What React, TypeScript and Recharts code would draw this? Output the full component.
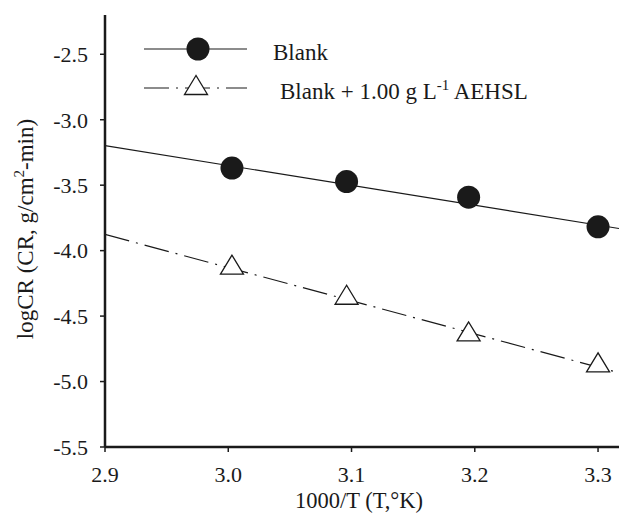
import React from 'react';
import { ComposedChart, Line, Scatter, XAxis, YAxis, Customized } from 'recharts';

// 1000/T values (K^-1 x 1000)
const xValues = [3.003, 3.096, 3.195, 3.3];
// logCR for Blank
const blankValues = [-3.369, -3.472, -3.592, -3.818];
// logCR for Blank + 1.00 g/L AEHSL
const inhibitorValues = [-4.107, -4.337, -4.617, -4.853];
// fitted regression lines (end points)
const fitX = [2.9, 3.317];
const blankFit = [-3.198, -3.831];
const inhibitorFit = [-3.876, -4.933];

const xTicks = [2.9, 3.0, 3.1, 3.2, 3.3];
const yTicks = [-5.5, -5.0, -4.5, -4.0, -3.5, -3.0, -2.5];

const blankPoints = xValues.map((x, i) => ({ x, y: blankValues[i] }));
const inhibitorPoints = xValues.map((x, i) => ({ x, y: inhibitorValues[i] }));
const blankFitData = fitX.map((x, i) => ({ x, y: blankFit[i] }));
const inhibitorFitData = fitX.map((x, i) => ({ x, y: inhibitorFit[i] }));

const FONT = '"Liberation Serif", "Times New Roman", serif';
const INK = '#1a1a1a';
const DASHDOT = '25 7 2 7';

const Circle = (props: any) => (
  <circle cx={props.cx} cy={props.cy} r={11.5} fill={INK} />
);

const triPoints = (cx: number, cy: number, w = 23, h = 19) =>
  `${cx},${cy - h / 2} ${cx - w / 2},${cy + h / 2} ${cx + w / 2},${cy + h / 2}`;

const Triangle = (props: any) => (
  <polygon points={triPoints(props.cx, props.cy)} fill="#fff" stroke={INK} strokeWidth={1.3} />
);

const textStyle = { fontFamily: FONT, fontWeight: 400 } as const;

const Decorations = () => (
  <g fill={INK}>
    {/* legend */}
    <line x1={144} y1={49} x2={247} y2={49} stroke={INK} strokeWidth={1.2} />
    <circle cx={198} cy={49} r={11.5} fill={INK} />
    <text x={273} y={60} fontSize={23} style={textStyle}>Blank</text>
    <line x1={144} y1={88} x2={247} y2={88} stroke={INK} strokeWidth={1.2} strokeDasharray={DASHDOT} />
    <polygon points={triPoints(196, 85)} fill="#fff" stroke={INK} strokeWidth={1.3} />
    <text x={280} y={99} fontSize={23} style={textStyle}>
      Blank + 1.00 g L
      <tspan fontSize={15} dy={-9}>-1</tspan>
      <tspan dy={9}> AEHSL</tspan>
    </text>
    {/* axis titles */}
    <text x={359} y={508} fontSize={22.5} textAnchor="middle" style={textStyle}>1000/T (T,°K)</text>
    <text transform="translate(33,229) rotate(-90)" x={0} y={0} fontSize={23} textAnchor="middle" style={textStyle}>
      logCR (CR, g/cm
      <tspan fontSize={15} dy={-9}>2</tspan>
      <tspan dy={9}>-min)</tspan>
    </text>
  </g>
);

export default function App() {
  return (
    <div style={{ position: 'absolute', left: 0, top: 0, fontFamily: FONT }}>
      <ComposedChart
        width={619}
        height={514}
        margin={{ top: 15, right: 0, bottom: 27, left: 45 }}
        style={{ background: '#fff', fontFamily: FONT }}
      >
        <XAxis
          type="number"
          dataKey="x"
          domain={[2.9, 3.317]}
          allowDataOverflow
          ticks={xTicks}
          tickFormatter={(v: number) => v.toFixed(1)}
          height={40}
          tickSize={5}
          tickMargin={14}
          axisLine={{ stroke: INK, strokeWidth: 2.5 }}
          tickLine={{ stroke: INK, strokeWidth: 1.5 }}
          tick={{ fill: INK, fontSize: 22, style: textStyle }}
        />
        <YAxis
          type="number"
          dataKey="y"
          domain={[-5.5, -2.2]}
          allowDataOverflow
          ticks={yTicks}
          tickFormatter={(v: number) => v.toFixed(1)}
          width={60}
          tickSize={5}
          tickMargin={12}
          axisLine={{ stroke: INK, strokeWidth: 2.5 }}
          tickLine={{ stroke: INK, strokeWidth: 1.5 }}
          tick={{ fill: INK, fontSize: 22, style: textStyle }}
        />
        <Line
          data={blankFitData}
          dataKey="y"
          stroke={INK}
          strokeWidth={1.2}
          dot={false}
          activeDot={false}
          isAnimationActive={false}
        />
        <Line
          data={inhibitorFitData}
          dataKey="y"
          stroke={INK}
          strokeWidth={1.2}
          strokeDasharray={DASHDOT}
          dot={false}
          activeDot={false}
          isAnimationActive={false}
        />
        <Scatter data={blankPoints} dataKey="y" shape={Circle} isAnimationActive={false} />
        <Scatter data={inhibitorPoints} dataKey="y" shape={Triangle} isAnimationActive={false} />
        <Customized component={Decorations} />
      </ComposedChart>
    </div>
  );
}
